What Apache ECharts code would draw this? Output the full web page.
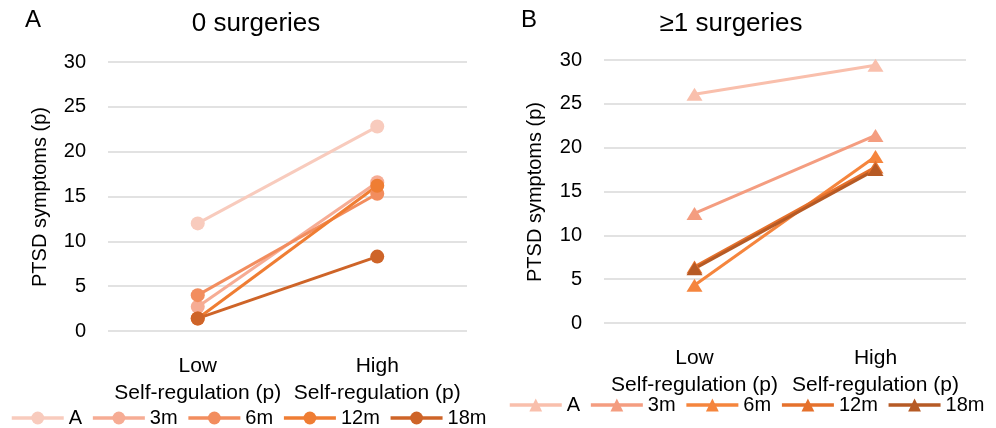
<!DOCTYPE html>
<html>
<head>
<meta charset="utf-8">
<script src="https://cdn.jsdelivr.net/npm/echarts@6/dist/echarts.min.js"></script>
<style>
  body { margin: 0; background: #fff; }
  #panelA { position: absolute; left: 0; top: 0; width: 498px; height: 428px; }
  #panelB { position: absolute; left: 498px; top: 0; width: 498px; height: 428px; }
</style>
</head>
<body>
<div id="panelA"></div>
<div id="panelB"></div>
<script>
// categories and series
let categories = ['Low', 'High'];
let seriesNames = ['A', '3m', '6m', '12m', '18m'];
let yTicks = [0, 5, 10, 15, 20, 25, 30];

// panel A: 0 surgeries
let zeroA = [12.0, 22.8];
let zero3m = [2.7, 16.6];
let zero6m = [4.0, 15.3];
let zero12m = [1.4, 16.2];
let zero18m = [1.4, 8.3];

// panel B: >=1 surgeries
let oneA = [26.1, 29.4];
let one3m = [12.5, 21.4];
let one6m = [4.3, 19.0];
let one12m = [6.4, 17.8];
let one18m = [6.2, 17.5];

let colorsA = ['#F8CBBD', '#F6AC94', '#F28D5E', '#EF7D33', '#CE6428'];
let colorsB = ['#F9BFAC', '#F49D80', '#F5853D', '#E5712C', '#B65A25'];

const FONT = 'Liberation Sans';

function panelOption(letter, title, values, colors, symbol, symbolSize, grid, legendTop, nameY) {
  return {
    animation: false,
    textStyle: { fontFamily: FONT },
    graphic: [
      { type: 'text', x: grid.letterX, y: 8, style: { text: letter, font: '24px ' + FONT, fill: '#000' } },
      { type: 'text', x: grid.nameX, y: nameY, rotation: Math.PI / 2,
        style: { text: 'PTSD symptoms (p)', font: '20px ' + FONT, fill: '#000', align: 'center', verticalAlign: 'middle' } }
    ],
    title: {
      text: title, left: grid.titleX, top: 6, textAlign: 'center',
      textStyle: { fontFamily: FONT, fontSize: 26, fontWeight: 'normal', color: '#000' }
    },
    legend: {
      data: seriesNames, left: 5, top: legendTop, itemWidth: 52, itemHeight: 16, itemGap: 9,
      lineStyle: { width: 3.5 },
      textStyle: { fontFamily: FONT, fontSize: 20, color: '#000' }
    },
    grid: { left: grid.left, right: grid.right, top: grid.top, bottom: grid.bottom },
    xAxis: {
      type: 'category', data: categories, boundaryGap: true,
      axisLine: { show: false }, axisTick: { show: false },
      axisLabel: {
        interval: 0, hideOverlap: false,
        margin: 22, color: '#000', fontFamily: FONT, fontSize: 21, lineHeight: 27,
        formatter: v => v + '\nSelf-regulation (p)'
      }
    },
    yAxis: {
      type: 'value', min: yTicks[0], max: yTicks[yTicks.length - 1], interval: 5,
      axisLine: { show: false }, axisTick: { show: false },
      axisLabel: { margin: 22, color: '#000', fontFamily: FONT, fontSize: 20 },
      splitLine: { lineStyle: { color: '#D9D9D9', width: 1.5 } }
    },
    series: seriesNames.map((n, i) => ({
      name: n, type: 'line', data: values[i], symbol: symbol, symbolSize: symbolSize,
      lineStyle: { width: 3, color: colors[i] },
      itemStyle: { color: colors[i] }
    }))
  };
}

let chartA = echarts.init(document.getElementById('panelA'));
chartA.setOption(panelOption('A', '0 surgeries',
  [zeroA, zero3m, zero6m, zero12m, zero18m], colorsA, 'circle', 14,
  { left: 108, right: 31, top: 62, bottom: 97, titleX: 251, letterX: 25, nameX: 40 }, 403, 197));

let chartB = echarts.init(document.getElementById('panelB'));
chartB.setOption(panelOption('B', '\u22651 surgeries',
  [oneA, one3m, one6m, one12m, one18m], colorsB, 'triangle', [16, 13],
  { left: 106, right: 30, top: 60, bottom: 105, titleX: 228, letterX: 23, nameX: 37 }, 390, 192));
</script>
</body>
</html>
